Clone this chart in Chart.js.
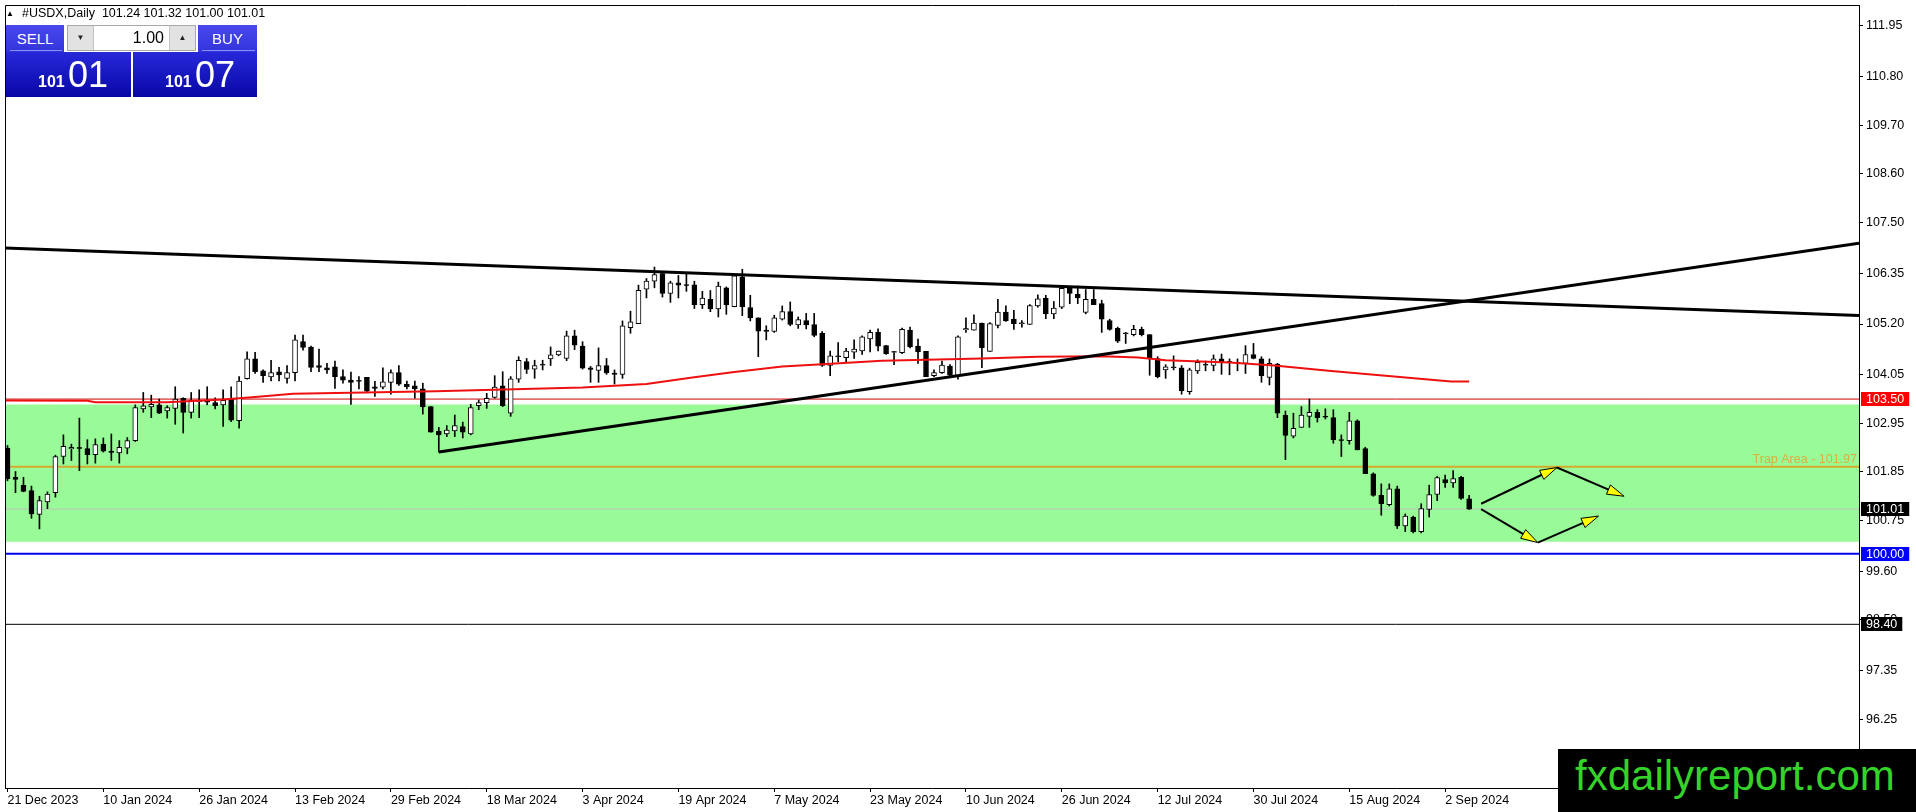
<!DOCTYPE html>
<html>
<head>
<meta charset="utf-8">
<script src="https://cdn.jsdelivr.net/npm/chart.js@4.4.1/dist/chart.umd.min.js"></script>
<style>
html, body { margin: 0; padding: 0; background: #fff; overflow: hidden; }
#wrap { position: relative; width: 1916px; height: 812px; font-family: "Liberation Sans", Arial, sans-serif; }
#c { position: absolute; left: 0; top: 0; }
#title { position: absolute; left: 6px; top: 6px; font-size: 12.5px; line-height: 14px; color: #000; white-space: nowrap; }
#title .tri { font-size: 8px; display: inline-block; width: 16px; vertical-align: 1px; }
.btn { position: absolute; top: 25px; height: 27px; line-height: 27px; color: #fff; font-size: 15px; text-align: center;
       background: linear-gradient(#4848ee, #3434dc); }
.btn:after { content: ""; position: absolute; left: 4px; right: 2px; bottom: 1px; height: 1px; background: #8c8cff; }
#sell { left: 6px; width: 58px; }
#buy { left: 198px; width: 59px; }
#lot { position: absolute; left: 67px; top: 25px; width: 127px; height: 24px; border: 1px solid #a8a8a8; background: #fff; }
#lot .arr { position: absolute; top: 0; width: 25px; height: 24px; line-height: 24px; text-align: center; font-size: 8px; background: #e2e2e2; color: #222; }
#lot .dn { left: 0; border-right: 1px solid #c4c4c4; }
#lot .up { right: 0; border-left: 1px solid #c4c4c4; }
#lot .val { position: absolute; right: 31px; top: 0; line-height: 24px; font-size: 16px; color: #000; }
.price { position: absolute; top: 52px; height: 45px; background: linear-gradient(#2828da, #0707a6); color: #fff; }
.price .s { position: absolute; left: 32px; top: 21px; font-size: 16px; line-height: 18px; font-weight: bold; }
.price .b { position: absolute; left: 62px; top: 3px; font-size: 36px; line-height: 40px; }
#pl { left: 6px; width: 125px; }
#pr { left: 133px; width: 124px; }
#mark { position: absolute; left: 1558px; top: 749px; width: 358px; height: 63px; background: #000; color: #35d32a;
        font-size: 42px; line-height: 53px; padding-left: 17px; box-sizing: border-box; white-space: nowrap; }
</style>
</head>
<body>
<div id="wrap">
  <canvas id="c" width="1916" height="812"></canvas>
  <div id="title"><span class="tri">&#9650;</span>#USDX,Daily&nbsp; 101.24 101.32 101.00 101.01</div>
  <div class="btn" id="sell">SELL</div>
  <div id="lot"><span class="arr dn">&#9660;</span><span class="val">1.00</span><span class="arr up">&#9650;</span></div>
  <div class="btn" id="buy">BUY</div>
  <div class="price" id="pl"><span class="s">101</span><span class="b">01</span></div>
  <div class="price" id="pr"><span class="s">101</span><span class="b">07</span></div>
  <div id="mark">fxdailyreport.com</div>
</div>
<script>
// daily candles, 21 Dec 2023 .. 5 Sep 2024 (bar index = position)
const opens = [102.39,101.73,101.55,101.43,100.89,101.17,101.38,102.20,102.38,102.40,102.38,102.24,102.48,102.32,102.28,102.39,102.56,103.28,103.32,103.37,
  103.23,103.29,103.52,103.20,103.44,103.47,103.42,103.37,103.50,103.01,103.96,104.41,104.14,104.00,104.12,103.97,104.10,104.80,104.68,104.26,
  104.21,104.23,104.01,103.93,103.92,103.99,103.78,103.77,103.88,104.10,103.84,103.80,103.73,103.33,102.77,102.71,102.78,102.88,102.71,103.35,
  103.42,103.54,103.80,103.18,103.95,104.35,104.18,104.27,104.41,104.50,104.42,104.93,104.70,104.21,104.15,104.26,104.09,104.06,105.12,105.21,
  105.99,106.17,106.34,105.89,106.13,106.09,106.09,105.64,105.76,105.54,106.02,105.59,106.27,105.57,105.34,105.06,105.03,105.31,105.48,105.18,
  105.28,105.19,104.99,104.26,104.46,104.44,104.56,104.59,104.86,105.01,104.71,104.56,104.55,105.06,104.70,104.58,104.03,104.10,104.25,104.03,
  105.07,105.06,105.22,104.58,105.17,105.47,105.31,105.21,105.19,105.61,105.79,105.43,105.58,106.01,105.87,105.46,105.76,105.66,105.28,105.10,
  104.98,104.96,105.08,104.96,104.42,104.16,104.21,104.21,103.67,104.14,104.27,104.26,104.41,104.35,104.33,104.31,104.51,104.41,103.99,104.29,
  103.13,102.66,102.86,103.11,103.20,103.11,103.08,102.58,102.56,103.01,102.38,101.81,101.32,101.11,101.47,100.63,100.83,100.50,101.00,101.34,
  101.68,101.60,101.73,101.24];
const highs = [102.45,101.86,101.73,101.53,101.30,101.40,102.23,102.69,102.48,103.07,102.58,102.60,102.62,102.71,102.56,102.63,103.37,103.65,103.59,103.50,
  103.35,103.78,103.53,103.65,103.71,103.78,103.53,103.71,103.78,104.01,104.57,104.56,104.16,104.38,104.22,104.26,104.95,104.95,104.70,104.63,
  104.31,104.36,104.16,104.11,104.01,103.99,103.90,104.21,104.16,104.26,103.91,103.91,103.86,103.33,102.86,102.90,103.14,102.98,103.38,103.48,
  103.63,104.03,104.12,104.01,104.46,104.42,104.38,104.38,104.68,104.59,105.04,105.06,104.80,104.24,104.66,104.42,104.16,105.27,105.49,106.08,
  106.23,106.49,106.36,106.17,106.30,106.34,106.17,105.94,105.96,106.15,106.04,106.32,106.44,105.85,105.34,105.16,105.40,105.61,105.70,105.36,
  105.44,105.44,105.03,104.59,104.78,104.65,104.84,104.93,105.06,105.09,104.72,104.58,105.11,105.13,104.86,104.58,104.16,104.36,104.28,104.93,
  105.34,105.41,105.22,105.23,105.76,105.61,105.51,105.28,105.64,105.86,105.85,105.71,106.06,106.04,106.06,105.98,105.98,105.74,105.31,105.13,
  105.01,105.17,105.13,104.96,104.46,104.28,104.48,104.26,104.20,104.39,104.36,104.50,104.52,104.41,104.41,104.71,104.76,104.46,104.41,104.31,
  103.23,103.18,103.33,103.50,103.26,103.28,103.26,102.69,103.20,103.03,102.41,101.83,101.58,101.58,101.53,100.90,100.85,101.13,101.55,101.75,
  101.78,101.88,101.75,101.32];
const lows = [101.65,101.38,101.40,100.80,100.56,101.02,101.28,102.03,102.11,101.88,102.03,102.05,102.30,102.11,102.05,102.26,102.54,103.20,103.08,103.17,
  103.07,102.93,102.73,103.07,103.08,103.37,103.28,102.88,102.99,102.84,103.95,104.08,103.88,103.91,103.91,103.86,103.91,104.61,104.12,104.12,
  104.08,103.74,103.86,103.38,103.73,103.65,103.56,103.73,103.61,103.81,103.73,103.52,103.16,102.75,102.30,102.65,102.65,102.62,102.69,103.26,
  103.29,103.52,103.33,103.11,103.88,104.08,103.97,104.16,104.26,104.48,104.37,104.62,104.18,103.88,103.88,104.06,103.84,103.97,104.99,105.21,
  105.79,106.02,105.81,105.69,105.79,105.94,105.55,105.55,105.48,105.36,105.42,105.59,105.39,105.27,104.46,104.84,105.01,105.29,105.16,105.10,
  105.09,104.91,104.24,104.03,104.35,104.35,104.42,104.51,104.57,104.59,104.51,104.28,104.53,104.66,104.31,104.01,104.01,104.08,104.03,103.95,
  105.01,105.06,104.21,104.58,105.11,105.26,105.08,105.13,105.19,105.58,105.32,105.32,105.55,105.66,105.66,105.43,105.64,105.01,105.06,104.78,
  104.76,104.93,104.93,104.04,103.98,103.97,104.16,103.61,103.61,104.08,104.14,104.14,104.06,104.05,104.14,104.08,104.41,103.88,103.82,103.08,
  102.13,102.62,102.86,102.86,102.98,103.05,102.50,102.20,102.48,102.35,101.81,101.30,100.87,101.08,100.57,100.50,100.47,100.47,100.83,101.20,
  101.50,101.50,101.23,101.00];
const closes = [101.70,101.68,101.41,100.90,101.20,101.35,102.20,102.43,102.40,102.39,102.24,102.47,102.32,102.30,102.41,102.56,103.31,103.35,103.38,103.18,
  103.31,103.50,103.20,103.47,103.46,103.43,103.35,103.47,103.02,103.91,104.41,104.12,104.03,104.10,104.05,104.10,104.84,104.67,104.22,104.22,
  104.16,104.01,103.93,103.88,103.91,103.68,103.74,103.89,104.10,103.84,103.78,103.73,103.32,102.75,102.69,102.80,102.90,102.75,103.31,103.42,
  103.52,103.77,103.35,103.96,104.38,104.17,104.26,104.28,104.50,104.59,104.93,104.72,104.20,104.18,104.26,104.09,104.06,105.16,105.25,105.96,
  106.17,106.32,105.89,106.13,106.08,106.08,105.64,105.79,105.54,106.06,105.63,106.29,105.59,105.34,105.04,105.03,105.34,105.48,105.19,105.30,
  105.18,104.94,104.26,104.48,104.47,104.59,104.63,104.91,105.01,104.70,104.53,104.57,105.08,104.68,104.57,104.01,104.10,104.27,104.04,104.91,
  105.09,105.22,104.66,105.21,105.47,105.27,105.21,105.22,105.62,105.77,105.43,105.56,106.01,105.89,105.79,105.76,105.64,105.31,105.08,104.81,
  104.99,105.08,104.96,104.42,104.01,104.23,104.22,103.69,104.16,104.33,104.28,104.41,104.33,104.34,104.32,104.51,104.42,104.03,104.31,103.18,
  102.68,102.84,103.14,103.20,103.08,103.10,102.58,102.57,103.01,102.35,101.81,101.32,101.13,101.47,100.63,100.85,100.50,101.02,101.34,101.72,
  101.60,101.70,101.25,101.01];

// red moving average at these bars
const maBars = [-0.3,10,11,20,27,31,35.75,53.6,72,80,85.75,90.75,97,102,109.5,122,129,137,141.6,145,153,158.6,165.4,173.6,180.75,183];
const maValues = [103.47,103.46,103.43,103.43,103.49,103.55,103.62,103.68,103.76,103.84,103.99,104.11,104.24,104.29,104.37,104.42,104.46,104.47,104.44,104.38,104.33,104.26,104.14,104.01,103.90,103.90];

const tickBars = [0,12,24,36,48,60,72,84,96,108,120,132,144,156,168,180];
const tickLabels = ['21 Dec 2023','10 Jan 2024','26 Jan 2024','13 Feb 2024','29 Feb 2024','18 Mar 2024','3 Apr 2024','19 Apr 2024',
  '7 May 2024','23 May 2024','10 Jun 2024','26 Jun 2024','12 Jul 2024','30 Jul 2024','15 Aug 2024','2 Sep 2024'];
const yTicks = [111.95,110.80,109.70,108.60,107.50,106.35,105.20,104.05,102.95,101.85,100.75,99.60,98.50,97.35,96.25];

// drawn objects (bar index, price)
const zoneTop = 103.38, zoneBottom = 100.27;
const resistLevel = 103.50, trapLevel = 101.97, bidLevel = 101.01, supportLevel = 100.00, lowLevel = 98.40;
const trendTop = [[-0.3125,106.92],[231.8125,105.39]];
const trendUp = [[54,102.30],[231.8125,107.03]];
const arrowPaths = [
  [[184.5,101.13],[194.0,101.95],[202.4,101.30]],
  [[184.5,101.01],[191.6,100.25],[199.2,100.85]]
];

const xMin = -0.3125, xMax = 231.8125;
const yMin = 94.6937, yMax = 112.4237;
const FONT = '"Liberation Sans", Arial, sans-serif';

const idx = opens.map((_, i) => i);
const pts = arr => arr.map(p => ({x: p[0], y: p[1]}));

function hLine(v, color, width, order) {
  return { type: 'line', data: [{x: xMin, y: v}, {x: xMax, y: v}], borderColor: color, borderWidth: width,
           pointRadius: 0, fill: false, order: order };
}

const overlay = {
  id: 'overlay',
  afterDatasetsDraw(chart) {
    const ctx = chart.ctx, xs = chart.scales.x, ys = chart.scales.y;
    ctx.save();
    arrowPaths.forEach(path => {
      for (let k = 1; k < path.length; k++) {
        const x0 = xs.getPixelForValue(path[k-1][0]), y0 = ys.getPixelForValue(path[k-1][1]);
        const x1 = xs.getPixelForValue(path[k][0]), y1 = ys.getPixelForValue(path[k][1]);
        const a = Math.atan2(y1 - y0, x1 - x0);
        ctx.strokeStyle = '#000'; ctx.lineWidth = 2;
        ctx.beginPath(); ctx.moveTo(x0, y0); ctx.lineTo(x1 - Math.cos(a) * 8, y1 - Math.sin(a) * 8); ctx.stroke();
        const L = 17, W = 5;
        const bx = x1 - Math.cos(a) * L, by = y1 - Math.sin(a) * L;
        ctx.beginPath();
        ctx.moveTo(x1, y1);
        ctx.lineTo(bx + Math.sin(a) * W, by - Math.cos(a) * W);
        ctx.lineTo(bx - Math.sin(a) * W, by + Math.cos(a) * W);
        ctx.closePath();
        ctx.fillStyle = '#ffff00'; ctx.fill();
        ctx.lineWidth = 1; ctx.stroke();
      }
    });
    ctx.restore();
  },
  afterDraw(chart) {
    const ctx = chart.ctx, ca = chart.chartArea, ys = chart.scales.y;
    ctx.save();
    // frame
    ctx.strokeStyle = '#000'; ctx.lineWidth = 1;
    ctx.beginPath();
    ctx.moveTo(ca.left + 0.5, ca.bottom); ctx.lineTo(ca.left + 0.5, ca.top + 0.5); ctx.lineTo(ca.right, ca.top + 0.5);
    ctx.stroke();
    // trap label
    ctx.font = '12.5px ' + FONT;
    ctx.fillStyle = '#dcae3c';
    ctx.textAlign = 'right'; ctx.textBaseline = 'bottom';
    ctx.fillText('Trap Area - ' + trapLevel.toFixed(2), ca.right - 2, ys.getPixelForValue(trapLevel) - 1);
    // price boxes on the axis
    const boxes = [[resistLevel, '#ff0000'], [bidLevel, '#000000'], [supportLevel, '#0000ff'], [lowLevel, '#000000']];
    ctx.textAlign = 'left'; ctx.textBaseline = 'middle';
    boxes.forEach(b => {
      const y = Math.round(ys.getPixelForValue(b[0]));
      const t = b[0].toFixed(2);
      const w = ctx.measureText(t).width;
      ctx.fillStyle = b[1];
      ctx.fillRect(ca.right + 2, y - 7, w + 10, 14);
      ctx.fillStyle = '#fff';
      ctx.fillText(t, ca.right + 7, y + 0.5);
    });
    ctx.restore();
  }
};

new Chart(document.getElementById('c'), {
  type: 'bar',
  data: {
    datasets: [
      { type: 'line', data: [{x: xMin, y: zoneTop}, {x: xMax, y: zoneTop}], borderWidth: 0, pointRadius: 0,
        backgroundColor: '#98fb98', fill: {value: zoneBottom}, order: 30 },
      hLine(bidLevel, '#c0c0c0', 1, 21),
      hLine(resistLevel, '#d00000', 1, 20),
      hLine(trapLevel, '#d4aa2c', 2, 20),
      hLine(supportLevel, '#0000ee', 2, 20),
      hLine(lowLevel, '#000000', 1, 20),
      { type: 'bar', data: idx.map(i => ({x: i, y: [lows[i], highs[i]]})), backgroundColor: '#000',
        barThickness: 1, grouped: false, borderWidth: 0, order: 6 },
      { type: 'bar', data: idx.map(i => ({x: i, y: [opens[i], closes[i]]})),
        backgroundColor: c => closes[c.dataIndex] > opens[c.dataIndex] ? '#ffffff' : '#000000',
        borderColor: '#000', borderWidth: 1, borderSkipped: false, barThickness: 5, grouped: false, order: 5 },
      { type: 'line', data: idx.filter(i => Math.abs(closes[i] - opens[i]) < 0.03).map(i => ({x: i, y: closes[i]})),
        showLine: false, pointStyle: 'line', pointRadius: 2.5, pointBorderWidth: 1, pointBorderColor: '#000', order: 4 },
      { type: 'line', data: maBars.map((b, k) => ({x: b, y: maValues[k]})), borderColor: '#ee1010', borderWidth: 2,
        pointRadius: 0, fill: false, order: 3 },
      { type: 'line', data: pts(trendTop), borderColor: '#000', borderWidth: 3, pointRadius: 0, fill: false, order: 1 },
      { type: 'line', data: pts(trendUp), borderColor: '#000', borderWidth: 3, pointRadius: 0, fill: false, order: 1 }
    ]
  },
  options: {
    responsive: false,
    animation: false,
    devicePixelRatio: 1,
    events: [],
    layout: { padding: { left: 2, top: 2, right: 0, bottom: 0 } },
    plugins: { legend: { display: false }, tooltip: { enabled: false } },
    scales: {
      x: {
        type: 'linear', min: xMin, max: xMax, offset: false, bounds: 'data',
        grid: { drawOnChartArea: false, drawTicks: true, tickLength: 4, color: '#000', offset: false },
        border: { display: true, color: '#000', width: 1 },
        ticks: { autoSkip: false, maxRotation: 0, align: 'start', padding: 1, color: '#000', font: { family: FONT, size: 12.5 },
                 callback: v => { const k = tickBars.indexOf(v); return k < 0 ? '' : tickLabels[k]; } },
        afterBuildTicks: s => { s.ticks = tickBars.map(v => ({ value: v })); },
        afterFit: s => { s.height = 24; s.paddingLeft = 0; s.paddingRight = 0; }
      },
      y: {
        type: 'linear', position: 'right', min: yMin, max: yMax, bounds: 'data',
        grid: { drawOnChartArea: false, drawTicks: true, tickLength: 4, color: '#000' },
        border: { display: true, color: '#000', width: 1 },
        ticks: { autoSkip: false, padding: 3, color: '#000', font: { family: FONT, size: 12.5 }, callback: v => v.toFixed(2) },
        afterBuildTicks: s => { s.ticks = yTicks.map(v => ({ value: v })); },
        afterFit: s => { s.width = 57; s.paddingTop = 0; s.paddingBottom = 0; }
      }
    }
  },
  plugins: [overlay]
});
</script>
</body>
</html>
